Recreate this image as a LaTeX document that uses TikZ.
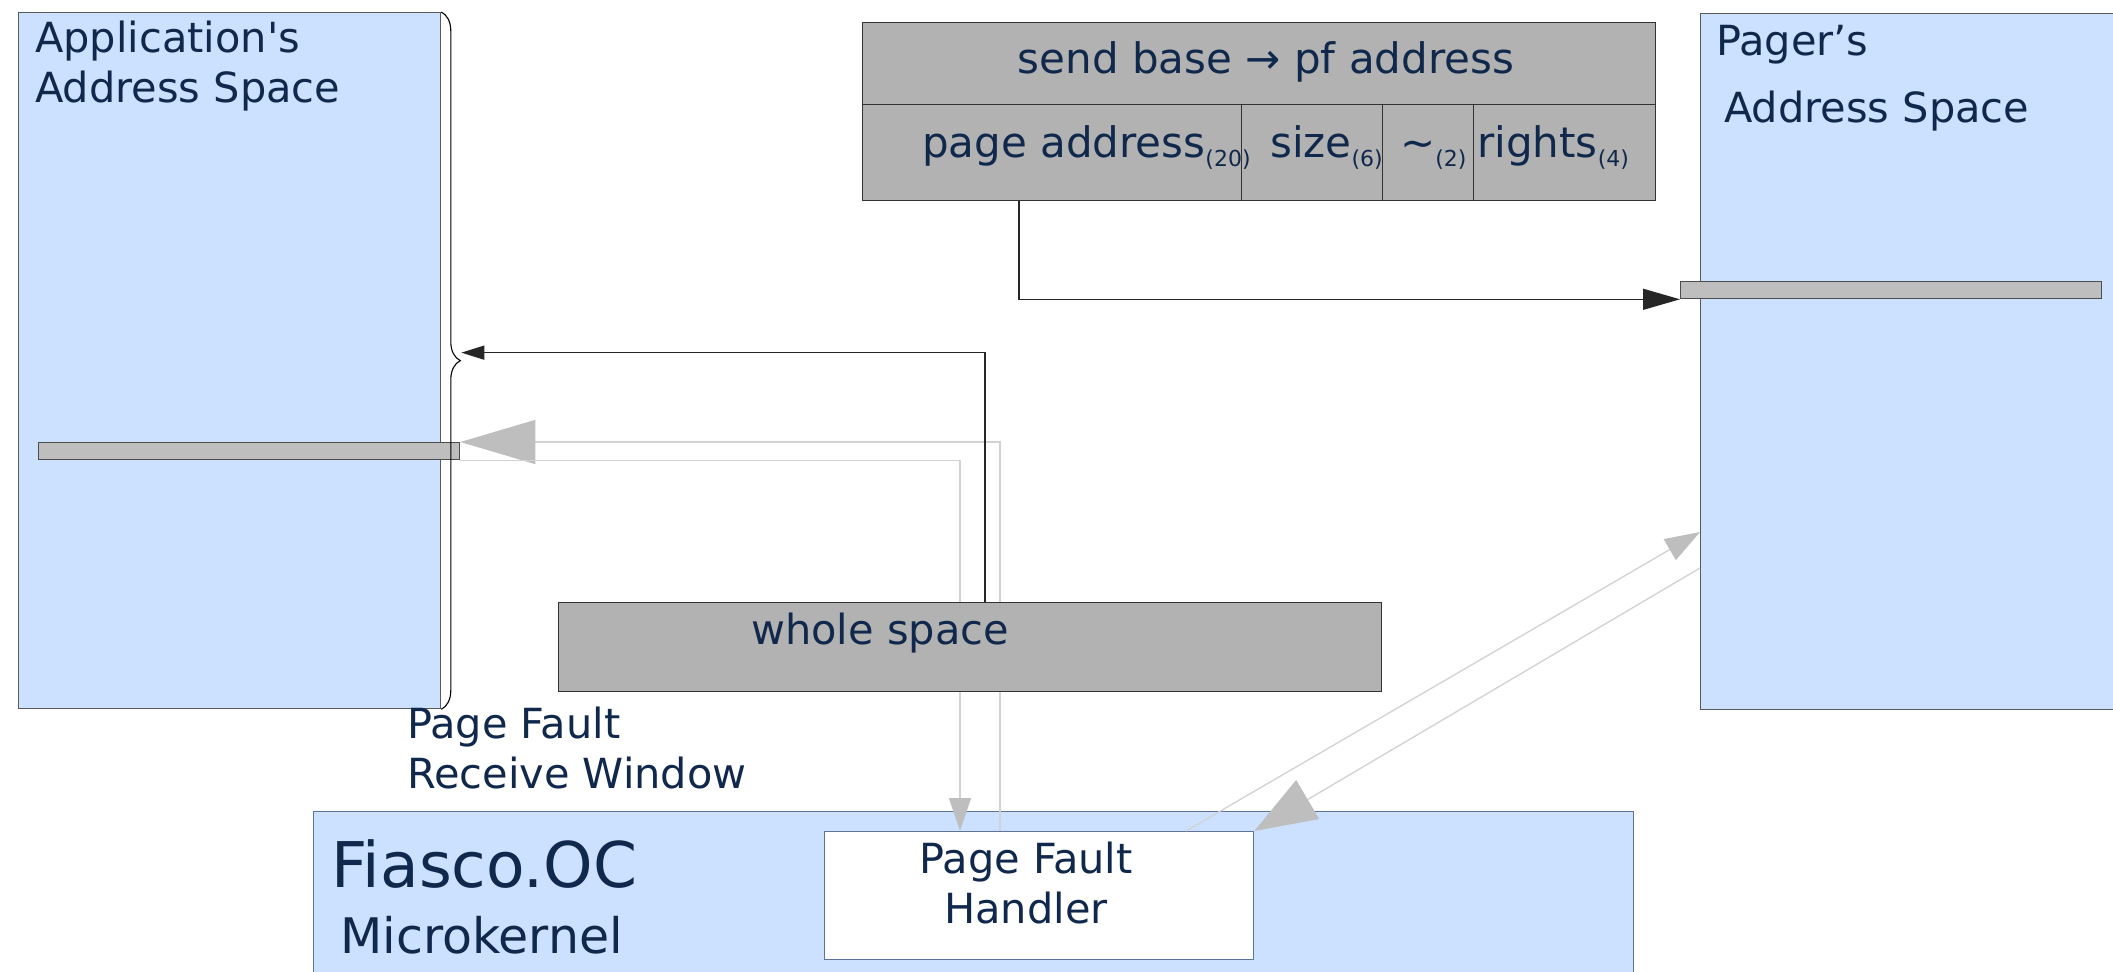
\documentclass[tikz,border=0pt]{standalone}
\usepackage{fontspec}
\setmainfont{DejaVu Sans}
\usetikzlibrary{arrows.meta,calc,decorations.pathreplacing}

\definecolor{spaceblue}{RGB}{204,224,255}
\definecolor{fieldgray}{RGB}{178,178,178}
\definecolor{bargray}{RGB}{190,190,190}
\definecolor{linegray}{RGB}{210,210,210}
\definecolor{labelblue}{RGB}{16,40,75}
\definecolor{edgeblue}{RGB}{95,115,150}

\newcommand{\fieldsub}[1]{\raisebox{-9pt}{\fontsize{22}{22}\selectfont(#1)}}

\begin{document}
\begin{tikzpicture}[x=1pt,y=-1pt,
  box/.style={draw=black!65, line width=1.3pt, inner sep=0pt, anchor=north west},
  space/.style={box, fill=spaceblue},
  field/.style={box, fill=fieldgray, draw=black!80},
  bar/.style={box, fill=bargray, draw=black!70},
  lbl/.style={text=labelblue, inner sep=0pt, font=\fontsize{41.5}{50}\selectfont},
  blkarrow/.style={draw=black!85, line width=1.3pt},
  grayarrow/.style={draw=linegray, line width=1.3pt}]
\useasboundingbox[fill=white] (0,0) rectangle (2113,972);

\node[space, minimum width=422pt, minimum height=696pt] (app) at (18,12) {};
\node[space, minimum width=430pt, minimum height=696pt] (pager) at (1700,13) {};
\node[space, draw=edgeblue, minimum width=1320pt, minimum height=180pt] (fiasco) at (313,811) {};
\node[box, fill=white, draw=edgeblue, minimum width=429pt, minimum height=128pt] (handler) at (824,831) {};
\node[bar, minimum width=421pt, minimum height=17pt] (appbar) at (38,442) {};
\node[bar, minimum width=421pt, minimum height=17pt] (pagerbar) at (1680,281) {};

% fpage descriptor
\node[field, minimum width=793pt, minimum height=82pt] (hdrtop) at (862,22) {};
\node[field, minimum width=379pt, minimum height=96pt] (cellpage) at (862,104) {};
\node[field, minimum width=141pt, minimum height=96pt] (cellsize) at (1241,104) {};
\node[field, minimum width=91pt, minimum height=96pt] (cellzero) at (1382,104) {};
\node[field, minimum width=182pt, minimum height=96pt] (cellrights) at (1473,104) {};

\draw[line width=1.1pt, decorate, decoration={brace, amplitude=19pt}] (app.north east) -- (app.south east);
\coordinate (bracetip) at ($(app.east)+(20,-8)$);

\draw[grayarrow, -{Triangle[length=75pt,width=44pt,color=bargray]}] ($(handler.north west)+(176,0)$) |- (appbar.north east);
\draw[grayarrow, -{Triangle[length=33pt,width=22pt,color=bargray]}] (appbar.south east) -| ($(handler.north west)+(136,0)$);
\draw[grayarrow, -{Triangle[length=35pt,width=24pt,color=bargray]}] ($(handler.north west)+(362,0)$) -- ($(pager.north west)+(0,519)$);
\draw[grayarrow, -{Triangle[length=62pt,width=45pt,color=bargray]}] ($(pager.north west)+(0,555)$) -- (handler.north east);

\node[field, minimum width=823pt, minimum height=89pt] (whole) at (558,602) {};

\draw[blkarrow, -{Triangle[length=23pt,width=14pt]}] ($(whole.north west)+(427,0)$) |- (bracetip);
\draw[blkarrow, -{Triangle[length=37pt,width=21pt]}] ($(cellpage.south west)+(157,0)$) |- (pagerbar.south west);

\node[lbl, anchor=base west, align=left] (applbl) at (35,102) {Application\textquotesingle s\\Address Space};
\node[lbl, anchor=base west] (pagerlbl) at (1716,55) {Pager’s};
\node[lbl, anchor=base west] (pagerlbl2) at (1724,122) {Address Space};
\node[lbl, anchor=base west, align=left] (windowlbl) at (407,788) {Page Fault\\Receive Window};
\node[lbl, anchor=base west] (wholelbl) at (751,644) {whole space};
\node[lbl, anchor=base, align=center] (handlerlbl) at (1026,923) {Page Fault\\Handler};
\node[lbl, anchor=base west, font=\fontsize{63}{70}\selectfont] (fiascolbl) at (331,887) {Fiasco.OC};
\node[lbl, anchor=base west, font=\fontsize{49}{55}\selectfont] (kernellbl) at (340,953) {Microkernel};

\node[lbl, anchor=base, font=\fontsize{42}{50}\selectfont] (sendlbl) at (1266,73) {send base → pf address};
\node[lbl, anchor=base west, font=\fontsize{42}{50}\selectfont] (pagelbl) at (922,157) {page address\fieldsub{20}};
\node[lbl, anchor=base west, font=\fontsize{42}{50}\selectfont] (sizelbl) at (1270,157) {size\fieldsub{6}};
\node[lbl, anchor=base west, font=\fontsize{42}{50}\selectfont] (zerolbl) at (1400,157) {\textasciitilde\fieldsub{2}};
\node[lbl, anchor=base west, font=\fontsize{42}{50}\selectfont] (rightslbl) at (1477,157) {rights\fieldsub{4}};
\end{tikzpicture}
\end{document}
